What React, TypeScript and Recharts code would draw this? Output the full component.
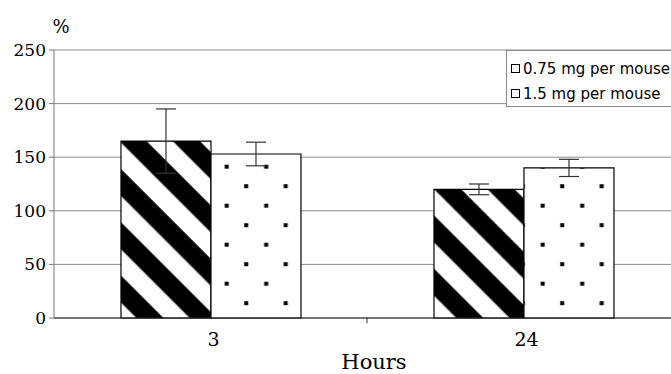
import { BarChart, Bar, XAxis, YAxis, CartesianGrid, ErrorBar, Legend } from "recharts";

const hours = ["3", "24"];
const dose075 = [165, 120];
const dose075Err = [30, 5];
const dose15 = [153, 140];
const dose15Err = [11, 8];
const yTicks = [0, 50, 100, 150, 200, 250];
const seriesNames = ["0.75 mg per mouse", "1.5 mg per mouse"];

const data = hours.map((h, i) => ({
    hour: h,
    low: dose075[i],
    lowErr: dose075Err[i],
    high: dose15[i],
    highErr: dose15Err[i],
}));

const serif = "'DejaVu Serif', serif";

/** Category label plus a tick mark on the right edge of each category. */
function HourTick(props: any) {
    const { x, y, payload } = props;
    const half = payload?.offset ?? 0;
    return (
        <g>
            <line x1={x + half} y1={y} x2={x + half} y2={y + 5} stroke="#333" />
            <text x={x + 3} y={y + 28} textAnchor="middle" fontFamily={serif} fontSize={19} fill="#000">
                {payload.value}
            </text>
        </g>
    );
}

function DoseLegend(props: any) {
    const names: string[] = props.payload?.length ? props.payload.map((p: any) => p.value) : seriesNames;
    return (
        <div
            style={{
                border: "1px solid #8a8a8a",
                background: "#fff",
                width: 190,
                height: 57,
                boxSizing: "border-box",
                padding: "5px 0 0 4px",
                fontFamily: "'DejaVu Sans', sans-serif",
                fontSize: 15,
                color: "#000",
                whiteSpace: "nowrap",
            }}
        >
            {names.map((n) => (
                <div key={n} style={{ display: "flex", alignItems: "center", height: 25 }}>
                    <svg width={10} height={9} style={{ marginRight: 2 }}>
                        <rect x={0.5} y={0.5} width={8} height={8} fill="#fff" stroke="#000" />
                    </svg>
                    <span>{n}</span>
                </div>
            ))}
        </div>
    );
}

export default function App() {
    return (
        <div style={{ position: "fixed", left: 0, top: 0, width: 671, height: 374, overflow: "hidden", background: "#fff" }}>
            <BarChart
                width={690}
                height={374}
                data={data}
                margin={{ top: 50, right: 10, left: 0, bottom: 26 }}
                barCategoryGap="21.4%"
                barGap={0}
            >
                <defs>
                    <pattern id="stripes" patternUnits="userSpaceOnUse" width={10} height={37.7} patternTransform="rotate(45)">
                        <rect x={0} y={0} width={10} height={37.7} fill="#fff" />
                        <rect x={0} y={0} width={10} height={15.3} fill="#000" />
                        <rect x={0} y={33.9} width={10} height={3.8} fill="#000" />
                    </pattern>
                    <pattern id="dots" patternUnits="userSpaceOnUse" width={39.5} height={39}>
                        <rect x={0} y={0} width={39.5} height={39} fill="#fff" />
                        <rect x={27.2} y={8.7} width={4} height={4} fill="#000" />
                        <rect x={7.2} y={28.2} width={4} height={4} fill="#000" />
                    </pattern>
                </defs>
                <CartesianGrid vertical={false} stroke="#8c8c8c" />
                <XAxis
                    dataKey="hour"
                    height={30}
                    tickLine={false}
                    tickSize={0}
                    tickMargin={0}
                    stroke="#222"
                    tick={<HourTick />}
                    label={{
                        content: ({ viewBox }: any) => (
                            <text
                                x={viewBox.x + viewBox.width / 2 + 7}
                                y={viewBox.y + 51}
                                textAnchor="middle"
                                fontFamily={serif}
                                fontSize={21}
                                fill="#000"
                            >
                                Hours
                            </text>
                        ),
                    }}
                />
                <YAxis
                    width={54}
                    domain={[0, 250]}
                    ticks={yTicks}
                    tickSize={5}
                    tickMargin={3}
                    stroke="#777"
                    tick={{ fontFamily: serif, fontSize: 17, fill: "#000" }}
                    label={{
                        content: ({ viewBox }: any) => (
                            <text x={viewBox.x + viewBox.width + 7} y={viewBox.y - 17} textAnchor="middle" fontFamily={serif} fontSize={18} fill="#000">
                                %
                            </text>
                        ),
                    }}
                />
                <Legend
                    layout="vertical"
                    align="center"
                    verticalAlign="middle"
                    content={<DoseLegend />}
                    wrapperStyle={{ left: 506, top: 50, width: 190 }}
                />
                <Bar dataKey="low" name={seriesNames[0]} fill="url(#stripes)" stroke="#000" strokeWidth={1.2} isAnimationActive={false}>
                    <ErrorBar dataKey="lowErr" width={10} stroke="#333" strokeWidth={1.2} direction="y" isAnimationActive={false} />
                </Bar>
                <Bar dataKey="high" name={seriesNames[1]} fill="url(#dots)" stroke="#000" strokeWidth={1.2} isAnimationActive={false}>
                    <ErrorBar dataKey="highErr" width={10} stroke="#333" strokeWidth={1.2} direction="y" isAnimationActive={false} />
                </Bar>
            </BarChart>
        </div>
    );
}
